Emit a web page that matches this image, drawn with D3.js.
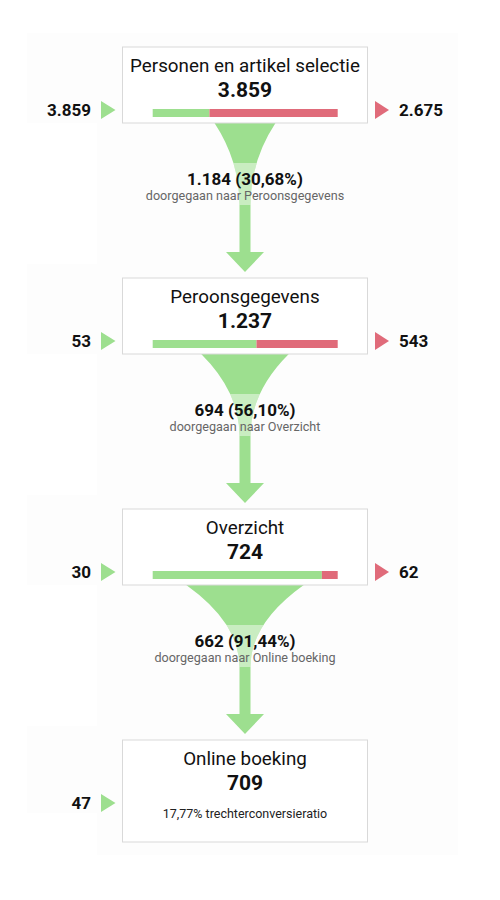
<!DOCTYPE html>
<html>
<head>
<meta charset="utf-8">
<script src="https://cdn.jsdelivr.net/npm/d3@7"></script>
<style>
  body { margin: 0; background: #fff; }
  svg { font-family: Roboto, "Noto Sans", sans-serif; }
</style>
</head>
<body>
<div id="funnel"></div>
<script>
// funnel stages (GA trechter)
const stages = ["Personen en artikel selectie", "Peroonsgegevens", "Overzicht", "Online boeking"];
const stageTotals = [3859, 1237, 724, 709];
const entries = [3859, 53, 30, 47];
const exits = [2675, 543, 62, null];
const proceeded = [1184, 694, 662];
const nextStages = ["Peroonsgegevens", "Overzicht", "Online boeking"];

const green = "#9ddf8f", red = "#e06b7a";

const nl = d3.formatLocale({decimal: ",", thousands: ".", grouping: [3], currency: ["€", ""]});
const fmtNum = nl.format(",d");
const fmtPct = nl.format(".2%");

const width = 500, height = 900;
const boxX = 122.5, boxW = 245, boxH = 76, lastBoxH = 102;
const cx = boxX + boxW / 2;

const svg = d3.select("#funnel").append("svg")
    .attr("width", width)
    .attr("height", height);

// y position of each stage box
const y = d3.scalePoint()
    .domain(stages)
    .range([47, 740]);

// bar inside box
const barX = d3.scaleLinear().domain([0, 1]).range([152.7, 337.7]);

// top width of funnel neck
const neckW = d3.scalePow().exponent(0.6).domain([0, 1]).range([0, 124]);

// faint background areas
const bg = svg.append("g");
bg.append("rect")
    .attr("x", 97).attr("y", 33).attr("width", 361).attr("height", 822)
    .attr("fill", "#fdfdfd");
stages.forEach((s, i) => {
    let top = y(s);
    let h = i === stages.length - 1 ? 87 : 90;
    bg.append("rect")
        .attr("x", 27).attr("y", top - 14).attr("width", 431).attr("height", h)
        .attr("fill", "#fdfdfd");
});

// funnels between the boxes
const funnels = svg.append("g");
const defs = svg.append("defs");
proceeded.forEach((p, i) => {
    let B = y(stages[i]) + boxH;
    let rate = p / stageTotals[i];
    let hw = neckW(rate) / 2;
    let sh = 5.5, ah = 19;
    let path = d3.path();
    path.moveTo(cx - hw, B);
    path.lineTo(cx + hw, B);
    path.quadraticCurveTo(cx + sh, B + 38, cx + sh, B + 82);
    path.lineTo(cx + sh, B + 129);
    path.lineTo(cx + ah, B + 129);
    path.lineTo(cx, B + 149);
    path.lineTo(cx - ah, B + 129);
    path.lineTo(cx - sh, B + 129);
    path.lineTo(cx - sh, B + 82);
    path.quadraticCurveTo(cx - sh, B + 38, cx - hw, B);
    path.closePath();

    defs.append("clipPath").attr("id", "neck" + i)
        .append("path").attr("d", path.toString());

    funnels.append("path")
        .attr("d", path.toString())
        .attr("fill", green);

    // light band behind the label, only visible on the funnel
    funnels.append("rect")
        .attr("x", cx - 105).attr("y", B + 40)
        .attr("width", 210).attr("height", 42)
        .attr("fill", "#fff").attr("opacity", 0.45)
        .attr("clip-path", `url(#neck${i})`);

    funnels.append("text")
        .attr("x", cx).attr("y", B + 62)
        .attr("text-anchor", "middle")
        .style("font-size", "17px").style("font-weight", "bold")
        .attr("fill", "#111")
        .text(fmtNum(p) + " (" + fmtPct(rate) + ")");

    funnels.append("text")
        .attr("x", cx).attr("y", B + 77)
        .attr("text-anchor", "middle")
        .style("font-size", "12.6px")
        .attr("fill", "#666")
        .text("doorgegaan naar " + nextStages[i]);
});

// stage boxes
const boxes = svg.append("g");
stages.forEach((s, i) => {
    let top = y(s);
    let last = i === stages.length - 1;
    let g = boxes.append("g");

    g.append("rect")
        .attr("x", boxX).attr("y", top)
        .attr("width", boxW).attr("height", last ? lastBoxH : boxH)
        .attr("fill", "#fff")
        .attr("stroke", "#d9d9d9");

    g.append("text")
        .attr("x", cx).attr("y", top + 25)
        .attr("text-anchor", "middle")
        .style("font-size", "18.8px")
        .attr("fill", "#111")
        .text(s);

    g.append("text")
        .attr("x", cx).attr("y", top + 50)
        .attr("text-anchor", "middle")
        .style("font-size", "21px").style("font-weight", "bold")
        .attr("fill", "#111")
        .text(fmtNum(stageTotals[i]));

    if (!last) {
        let share = proceeded[i] / stageTotals[i];
        g.append("rect")
            .attr("x", barX(0)).attr("y", top + 62)
            .attr("width", barX(share) - barX(0)).attr("height", 8)
            .attr("fill", green);
        g.append("rect")
            .attr("x", barX(share)).attr("y", top + 62)
            .attr("width", barX(1) - barX(share)).attr("height", 8)
            .attr("fill", red);
    } else {
        let conv = stageTotals[i] / d3.sum(entries);
        g.append("text")
            .attr("x", cx).attr("y", top + 78)
            .attr("text-anchor", "middle")
            .style("font-size", "12.5px")
            .attr("fill", "#222")
            .text(fmtPct(conv) + " trechterconversieratio");
    }

    // entries (left)
    let c = top + 63;
    g.append("path")
        .attr("d", `M101,${c - 9}L115.5,${c}L101,${c + 9}Z`)
        .attr("fill", green);
    g.append("text")
        .attr("x", 91).attr("y", c + 6)
        .attr("text-anchor", "end")
        .style("font-size", "17px").style("font-weight", "bold")
        .attr("fill", "#111")
        .text(fmtNum(entries[i]));

    // exits (right)
    if (exits[i] != null) {
        g.append("path")
            .attr("d", `M375,${c - 9}L389,${c}L375,${c + 9}Z`)
            .attr("fill", red);
        g.append("text")
            .attr("x", 399).attr("y", c + 6)
            .style("font-size", "17px").style("font-weight", "bold")
            .attr("fill", "#111")
            .text(fmtNum(exits[i]));
    }
});
</script>
</body>
</html>
